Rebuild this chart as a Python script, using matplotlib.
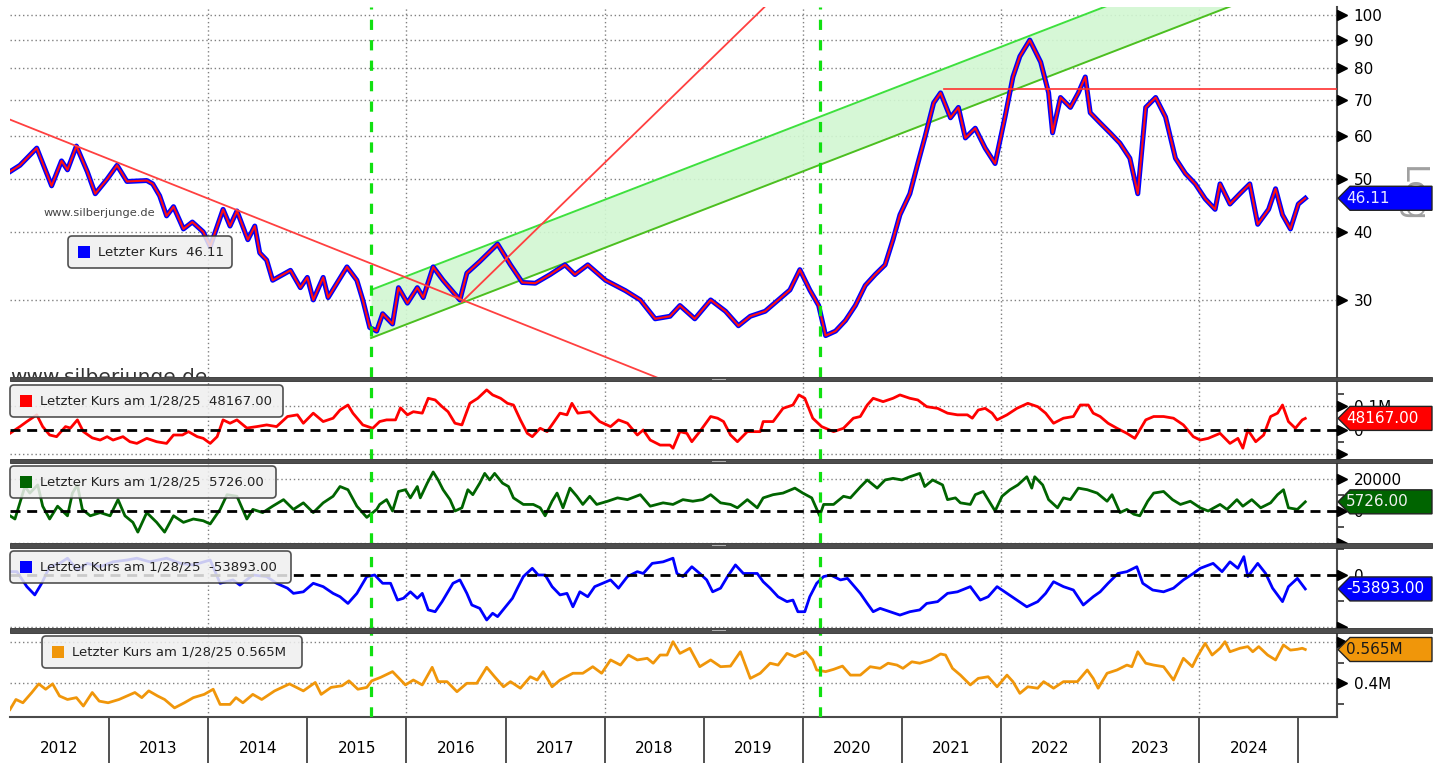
import numpy as np
import matplotlib
matplotlib.use("Agg")
import matplotlib.pyplot as plt
import matplotlib.transforms as mtransforms
from matplotlib import font_manager as fm
from matplotlib.patches import Polygon, Rectangle, FancyBboxPatch
from matplotlib.ticker import NullLocator, NullFormatter, FixedLocator

# ---------------- data (decimal years / values) ----------------
price_t = [2012.00, 2012.10, 2012.27, 2012.42, 2012.52, 2012.58, 2012.67, 2012.78, 2012.86, 2012.98,
           2013.08, 2013.18, 2013.38, 2013.44, 2013.51, 2013.58, 2013.65, 2013.75, 2013.84, 2013.95,
           2014.02, 2014.15, 2014.22, 2014.29, 2014.40, 2014.47, 2014.52, 2014.59, 2014.65, 2014.83,
           2014.93, 2015.00, 2015.06, 2015.16, 2015.21, 2015.40, 2015.50, 2015.56, 2015.63, 2015.70,
           2015.76, 2015.86, 2015.92, 2016.01, 2016.11, 2016.17, 2016.27, 2016.37, 2016.54, 2016.61,
           2016.74, 2016.92, 2017.05, 2017.17, 2017.30, 2017.45, 2017.60, 2017.70, 2017.83, 2018.01,
           2018.21, 2018.36, 2018.51, 2018.66, 2018.76, 2018.91, 2019.07, 2019.22, 2019.35, 2019.47,
           2019.62, 2019.77, 2019.87, 2019.97, 2020.07, 2020.16, 2020.23, 2020.33, 2020.43, 2020.53,
           2020.63, 2020.73, 2020.83, 2020.91, 2020.98, 2021.08, 2021.16, 2021.23, 2021.32, 2021.39,
           2021.49, 2021.57, 2021.64, 2021.74, 2021.84, 2021.94, 2022.04, 2022.12, 2022.19, 2022.29,
           2022.40, 2022.48, 2022.52, 2022.60, 2022.70, 2022.78, 2022.85, 2022.90, 2023.00, 2023.10,
           2023.20, 2023.30, 2023.38, 2023.46, 2023.56, 2023.66, 2023.76, 2023.86, 2023.96, 2024.06,
           2024.16, 2024.21, 2024.31, 2024.41, 2024.51, 2024.59, 2024.70, 2024.77, 2024.84, 2024.92,
           2025.00, 2025.07]
price_v = [51.6, 53.0, 57.0, 48.6, 54.0, 52.0, 57.5, 51.6, 47.0, 50.0,
           53.0, 49.5, 49.7, 49.0, 46.6, 42.8, 44.5, 40.5, 41.7, 40.0,
           37.6, 44.0, 41.0, 43.7, 38.7, 41.0, 36.6, 35.5, 32.6, 34.0,
           31.6, 33.0, 30.0, 33.0, 30.3, 34.5, 32.6, 30.0, 26.7, 26.3,
           28.3, 27.1, 31.6, 29.6, 31.6, 30.3, 34.5, 32.6, 30.0, 33.6,
           35.3, 38.0, 34.8, 32.3, 32.2, 33.4, 34.8, 33.4, 34.8, 32.6,
           31.2, 30.0, 27.7, 28.0, 29.3, 27.7, 30.0, 28.6, 26.9, 28.0,
           28.6, 30.2, 31.3, 34.1, 31.3, 29.3, 25.8, 26.3, 27.5, 29.3,
           31.9, 33.4, 34.8, 38.7, 43.0, 47.0, 53.4, 59.5, 69.0, 72.0,
           64.8, 67.7, 59.5, 62.0, 57.0, 53.4, 65.0, 77.0, 84.0, 90.0,
           82.0, 72.0, 60.8, 70.6, 67.7, 72.0, 77.0, 66.2, 63.4, 60.8,
           58.2, 54.6, 47.0, 67.7, 70.6, 65.0, 54.6, 51.2, 49.0, 46.0,
           44.0, 49.0, 45.0, 47.0, 49.0, 41.3, 44.0, 48.0, 43.0, 40.5,
           45.0, 46.11]

red_t = [2012.00, 2012.10, 2012.17, 2012.27, 2012.33, 2012.40, 2012.47, 2012.56, 2012.61, 2012.68,
         2012.74, 2012.83, 2012.91, 2012.98, 2013.04, 2013.14, 2013.21, 2013.28, 2013.38, 2013.48,
         2013.58, 2013.65, 2013.74, 2013.80, 2013.89, 2013.95, 2014.02, 2014.09, 2014.15, 2014.22,
         2014.29, 2014.39, 2014.49, 2014.59, 2014.69, 2014.80, 2014.90, 2014.96, 2015.06, 2015.16,
         2015.26, 2015.33, 2015.41, 2015.46, 2015.56, 2015.66, 2015.73, 2015.80, 2015.89, 2015.94,
         2016.01, 2016.07, 2016.16, 2016.22, 2016.29, 2016.36, 2016.42, 2016.49, 2016.56, 2016.64,
         2016.72, 2016.81, 2016.87, 2016.95, 2017.02, 2017.08, 2017.15, 2017.22, 2017.27, 2017.35,
         2017.42, 2017.48, 2017.55, 2017.62, 2017.67, 2017.73, 2017.85, 2017.95, 2018.06, 2018.14,
         2018.23, 2018.33, 2018.39, 2018.46, 2018.56, 2018.66, 2018.69, 2018.76, 2018.83, 2018.88,
         2018.96, 2019.07, 2019.14, 2019.20, 2019.27, 2019.34, 2019.44, 2019.57, 2019.60, 2019.70,
         2019.80, 2019.90, 2019.96, 2020.02, 2020.10, 2020.19, 2020.31, 2020.41, 2020.51, 2020.58,
         2020.65, 2020.71, 2020.81, 2020.91, 2020.98, 2021.08, 2021.16, 2021.25, 2021.36, 2021.46,
         2021.56, 2021.66, 2021.71, 2021.77, 2021.84, 2021.91, 2021.96, 2022.06, 2022.16, 2022.27,
         2022.37, 2022.45, 2022.53, 2022.63, 2022.73, 2022.80, 2022.88, 2022.93, 2023.00, 2023.08,
         2023.17, 2023.27, 2023.35, 2023.40, 2023.46, 2023.54, 2023.64, 2023.74, 2023.84, 2023.94,
         2024.01, 2024.09, 2024.21, 2024.31, 2024.39, 2024.44, 2024.49, 2024.57, 2024.65, 2024.72,
         2024.79, 2024.84, 2024.90, 2024.97, 2025.04, 2025.07]
red_v = [-14, 14, 35, 63, 14, -21, -28, 14, 8, 42,
         -7, -33, -42, -28, -42, -28, -49, -56, -35, -49,
         -56, -21, -21, -7, -28, -35, -56, -28, 42, 28,
         42, 8, 14, 21, 14, 56, 63, 28, 70, 35,
         49, 83, 104, 70, 21, 7, 35, 42, 42, 92,
         63, 76, 70, 132, 125, 97, 76, 28, 21, 111,
         132, 167, 146, 132, 111, 104, 42, -14, -28, 7,
         -7, 28, 70, 63, 111, 70, 76, 35, 14, 42,
         28, -21, 0, -42, -63, -63, -76, -7, -14, -49,
         -7, 56, 49, 35, -21, -49, -7, -7, 35, 35,
         90, 104, 146, 132, 49, 14, -7, 7, 49, 56,
         104, 132, 118, 132, 146, 132, 125, 97, 90, 70,
         63, 63, 49, 83, 90, 70, 42, 63, 90, 111,
         97, 70, 28, 49, 56, 104, 104, 70, 56, 28,
         7, -14, -35, 0, 42, 56, 56, 49, 21, -28,
         -42, -35, -14, -56, -35, -76, 0, -49, -21, 56,
         70, 104, 35, 7, 42, 48.167]

green_t = [2012.00, 2012.05, 2012.10, 2012.15, 2012.20, 2012.28, 2012.33, 2012.40, 2012.48, 2012.58,
           2012.63, 2012.68, 2012.73, 2012.81, 2012.91, 2013.01, 2013.09, 2013.16, 2013.24, 2013.29,
           2013.38, 2013.48, 2013.56, 2013.65, 2013.75, 2013.85, 2013.95, 2014.02, 2014.12, 2014.19,
           2014.29, 2014.39, 2014.45, 2014.55, 2014.65, 2014.76, 2014.86, 2014.96, 2015.06, 2015.16,
           2015.26, 2015.33, 2015.41, 2015.50, 2015.60, 2015.70, 2015.73, 2015.80, 2015.86, 2015.92,
           2015.99, 2016.04, 2016.11, 2016.14, 2016.21, 2016.27, 2016.32, 2016.37, 2016.44, 2016.49,
           2016.56, 2016.62, 2016.67, 2016.74, 2016.79, 2016.84, 2016.89, 2016.97, 2017.03, 2017.08,
           2017.18, 2017.28, 2017.35, 2017.40, 2017.47, 2017.52, 2017.58, 2017.65, 2017.72, 2017.78,
           2017.85, 2017.92, 2018.03, 2018.13, 2018.23, 2018.36, 2018.46, 2018.59, 2018.69, 2018.79,
           2018.89, 2018.99, 2019.07, 2019.17, 2019.27, 2019.34, 2019.44, 2019.54, 2019.60, 2019.70,
           2019.80, 2019.92, 2020.00, 2020.09, 2020.17, 2020.21, 2020.31, 2020.41, 2020.48, 2020.58,
           2020.65, 2020.75, 2020.83, 2020.91, 2021.00, 2021.08, 2021.18, 2021.23, 2021.31, 2021.41,
           2021.46, 2021.54, 2021.59, 2021.69, 2021.74, 2021.82, 2021.87, 2021.94, 2022.01, 2022.09,
           2022.17, 2022.26, 2022.31, 2022.34, 2022.42, 2022.48, 2022.57, 2022.63, 2022.70, 2022.78,
           2022.87, 2022.97, 2023.07, 2023.12, 2023.20, 2023.27, 2023.34, 2023.40, 2023.48, 2023.54,
           2023.64, 2023.73, 2023.81, 2023.91, 2024.01, 2024.09, 2024.21, 2024.28, 2024.38, 2024.44,
           2024.53, 2024.62, 2024.72, 2024.79, 2024.85, 2024.90, 2024.99, 2025.07]
green_v = [-3, -5, 5.1, 15.3, 11.2, 16.3, 3, -5, 3, -3,
           11.2, 16.3, 1, -3, -1, -3, 7.1, -3, -7.1, -13.2,
           -1, -7.1, -13.2, -3, -7.1, -5, -6.1, -8.1, 1, 10.2,
           9.2, -5, 1, -1, 3, 7.1, 1, 5.1, -1, 5.1,
           9.2, 15.3, 13.3, 3, -4, 1, 4.1, 7.1, 0, 12.2,
           13.3, 8.2, 15.3, 8.2, 17.4, 24.4, 19.4, 13.3, 7.1, 0,
           2, 13.3, 10.2, 17.4, 23.5, 19.4, 23.5, 17.4, 15.3, 8.2,
           4.1, 4.1, 2, -3, 6.1, 11.2, 2, 14.3, 9.2, 4.1,
           9.2, 4.1, 6.1, 8.2, 7.1, 10.2, 3, 5.1, 4.1, 7.1,
           6.1, 7.1, 10.2, 5.1, 4.1, 2, 7.1, 2, 8.2, 10.2,
           11.2, 14.3, 11.2, 8.2, -3, 4.1, 4.1, 9.2, 8.2, 15,
           19.4, 14.3, 19.4, 20.4, 19.4, 21.4, 23.5, 15.3, 19.4, 16.3,
           7.1, 8.2, 5.1, 4.1, 10.2, 12.2, 7.1, 0, 9.2, 13.3,
           16.3, 21.4, 14.3, 21.4, 16.3, 7.1, 2, 8.2, 7.1, 14.3,
           13.3, 11.2, 6.1, 10.2, -1, 1, -2, -3, 6.1, 11.2,
           12.2, 7.1, 4.1, 6.1, 2, 0, 4.1, 1, 7.1, 3,
           7.1, 2, 5.1, 10.2, 13.3, 2, 1, 5.726]

blue_t = [2012.00, 2012.07, 2012.17, 2012.25, 2012.32, 2012.40, 2012.50, 2012.58, 2012.68, 2012.78,
          2012.91, 2013.04, 2013.18, 2013.28, 2013.41, 2013.58, 2013.72, 2013.85, 2014.02, 2014.12,
          2014.25, 2014.32, 2014.45, 2014.59, 2014.69, 2014.80, 2014.86, 2014.96, 2015.06, 2015.16,
          2015.26, 2015.33, 2015.41, 2015.50, 2015.60, 2015.68, 2015.76, 2015.84, 2015.91, 2015.97,
          2016.04, 2016.11, 2016.16, 2016.22, 2016.29, 2016.36, 2016.41, 2016.47, 2016.54, 2016.61,
          2016.66, 2016.74, 2016.81, 2016.87, 2016.92, 2017.00, 2017.07, 2017.12, 2017.18, 2017.27,
          2017.33, 2017.40, 2017.47, 2017.55, 2017.62, 2017.68, 2017.75, 2017.83, 2017.90, 2017.98,
          2018.06, 2018.14, 2018.23, 2018.33, 2018.39, 2018.48, 2018.59, 2018.69, 2018.73, 2018.79,
          2018.88, 2018.96, 2019.03, 2019.09, 2019.17, 2019.24, 2019.32, 2019.40, 2019.54, 2019.60,
          2019.67, 2019.75, 2019.84, 2019.90, 2019.95, 2020.02, 2020.07, 2020.14, 2020.21, 2020.28,
          2020.38, 2020.45, 2020.58, 2020.65, 2020.71, 2020.78, 2020.88, 2020.98, 2021.08, 2021.18,
          2021.25, 2021.36, 2021.46, 2021.56, 2021.69, 2021.79, 2021.87, 2021.96, 2022.06, 2022.16,
          2022.26, 2022.37, 2022.45, 2022.53, 2022.63, 2022.73, 2022.83, 2022.93, 2023.00, 2023.08,
          2023.18, 2023.27, 2023.37, 2023.43, 2023.53, 2023.64, 2023.74, 2023.84, 2023.94, 2024.01,
          2024.14, 2024.23, 2024.31, 2024.39, 2024.45, 2024.49, 2024.59, 2024.67, 2024.74, 2024.84,
          2024.90, 2024.99, 2025.07]
blue_v = [13, 13, -45, -77, -32, 32, 45, 65, 19, 45,
          32, 51, 58, 65, 51, 65, 45, 39, 58, -32,
          -19, -39, 0, -6, -32, -51, -71, -65, -32, -45,
          -71, -84, -110, -71, -6, 0, -32, -32, -97, -90,
          -65, -90, -71, -135, -142, -103, -71, -32, -19, -71,
          -116, -129, -174, -148, -161, -123, -90, -51, -6, 26,
          0, 0, -45, -77, -71, -123, -65, -84, -45, -32,
          -19, -51, -6, 13, 6, 45, 51, 65, 6, -6,
          32, 6, -19, -65, -51, -6, 39, 6, 6, -26,
          -51, -84, -103, -97, -142, -142, -84, -32, -6, 0,
          -19, -13, -71, -110, -142, -129, -142, -155, -142, -135,
          -110, -103, -71, -65, -45, -97, -84, -45, -71, -97,
          -123, -103, -71, -26, -45, -58, -116, -84, -65, -32,
          6, 13, 32, -32, -58, -65, -51, -19, 6, 26,
          45, 13, 51, 26, 71, -6, 45, 6, -51, -103,
          -45, -13, -53.893]

orange_t = [2012.00, 2012.06, 2012.13, 2012.22, 2012.29, 2012.36, 2012.43, 2012.50, 2012.58, 2012.67,
            2012.74, 2012.83, 2012.90, 2012.99, 2013.10, 2013.26, 2013.33, 2013.40, 2013.49, 2013.56,
            2013.66, 2013.76, 2013.85, 2013.96, 2014.05, 2014.12, 2014.22, 2014.28, 2014.35, 2014.45,
            2014.54, 2014.67, 2014.82, 2014.96, 2015.08, 2015.14, 2015.24, 2015.35, 2015.42, 2015.51,
            2015.60, 2015.65, 2015.74, 2015.86, 2015.99, 2016.07, 2016.16, 2016.26, 2016.32, 2016.41,
            2016.51, 2016.61, 2016.71, 2016.81, 2016.89, 2016.98, 2017.05, 2017.15, 2017.25, 2017.32,
            2017.38, 2017.47, 2017.55, 2017.68, 2017.78, 2017.88, 2017.97, 2018.06, 2018.16, 2018.24,
            2018.33, 2018.43, 2018.49, 2018.56, 2018.63, 2018.69, 2018.76, 2018.86, 2018.96, 2019.07,
            2019.17, 2019.27, 2019.37, 2019.47, 2019.57, 2019.67, 2019.75, 2019.84, 2019.92, 2020.03,
            2020.10, 2020.14, 2020.23, 2020.31, 2020.40, 2020.48, 2020.58, 2020.68, 2020.78, 2020.86,
            2020.95, 2021.01, 2021.10, 2021.18, 2021.29, 2021.39, 2021.44, 2021.51, 2021.59, 2021.69,
            2021.77, 2021.87, 2021.96, 2022.06, 2022.12, 2022.19, 2022.27, 2022.37, 2022.43, 2022.53,
            2022.63, 2022.77, 2022.87, 2022.93, 2022.98, 2023.07, 2023.17, 2023.27, 2023.32, 2023.38,
            2023.46, 2023.54, 2023.64, 2023.74, 2023.84, 2023.93, 2023.98, 2024.06, 2024.13, 2024.21,
            2024.26, 2024.31, 2024.41, 2024.49, 2024.54, 2024.60, 2024.69, 2024.77, 2024.85, 2024.92,
            2024.99, 2025.04, 2025.07]
orange_v = [272, 321, 305, 355, 397, 371, 397, 338, 321, 330,
            289, 355, 313, 305, 321, 355, 330, 363, 338, 321,
            280, 305, 330, 346, 371, 297, 297, 330, 305, 346,
            321, 363, 397, 363, 404, 346, 380, 388, 412, 371,
            380, 412, 429, 457, 392, 416, 392, 478, 408, 408,
            359, 400, 400, 478, 432, 383, 408, 376, 432, 416,
            457, 383, 416, 449, 449, 481, 449, 514, 489, 538,
            514, 522, 498, 538, 538, 603, 546, 571, 481, 514,
            481, 484, 554, 424, 449, 498, 489, 546, 530, 554,
            514, 465, 457, 468, 484, 440, 440, 481, 473, 498,
            489, 473, 505, 498, 514, 543, 538, 473, 440, 392,
            424, 432, 383, 440, 408, 351, 383, 376, 408, 376,
            408, 408, 465, 424, 376, 449, 465, 489, 481, 554,
            498, 489, 481, 416, 522, 481, 530, 595, 538, 571,
            603, 554, 571, 579, 554, 579, 538, 514, 587, 562,
            566, 571, 565]

# trend lines / annotations (data units)
down_t, down_v = [2012.0, 2018.7], [64.3, 21.0]
up_t, up_v = [2016.56, 2019.8], [29.75, 111.7]
chan_t, chan_lo, chan_hi = [2015.643, 2025.39], [25.54, 123.5], [31.30, 151.3]
hl_t, hl_v = [2021.42, 2025.39], [73.1, 73.1]
event_t = [2015.643, 2020.175]
grid_years = [2014, 2016, 2018, 2020, 2022, 2024]
year_labels = [str(y) for y in range(2012, 2025)]
last_values = ["46.11", "48167.00", "5726.00", "-53893.00", "0.565M"]

# ---------------- figure ----------------
W, H = 1444, 763
fig = plt.figure(figsize=(W / 100, H / 100), dpi=100)
fig.patch.set_facecolor("white")
names = {f.name for f in fm.fontManager.ttflist}
NARROW = "Liberation Sans Narrow" if "Liberation Sans Narrow" in names else "DejaVu Sans"
NSIZE = 13 if NARROW != "DejaVu Sans" else 11
plt.rcParams["font.family"] = ["DejaVu Sans"]
ID = mtransforms.IdentityTransform()


def rect(x0, yt, x1, yb):
    return [x0 / W, 1 - yb / H, (x1 - x0) / W, (yb - yt) / H]


X0_T, X1_T = 2012.0, 2025.39
ax_m = fig.add_axes(rect(10, 7, 1337, 377))
ax_r = fig.add_axes(rect(10, 381, 1337, 459))
ax_g = fig.add_axes(rect(10, 463, 1337, 543))
ax_b = fig.add_axes(rect(10, 548, 1337, 628))
ax_o = fig.add_axes(rect(10, 633, 1337, 717))
all_axes = [ax_m, ax_r, ax_g, ax_b, ax_o]

DOT = (0, (1, 2))
for ax in all_axes:
    ax.set_xlim(X0_T, X1_T)
    for s in ["top", "left", "bottom"]:
        ax.spines[s].set_visible(False)
    ax.spines["right"].set_color("#4a4a4a")
    ax.spines["right"].set_linewidth(1.5)
    ax.yaxis.tick_right()
    ax.tick_params(axis="x", which="both", bottom=False, top=False, labelbottom=False)
    for yr in grid_years:
        ax.axvline(yr, color="#808080", lw=1, ls=DOT, zorder=0)
    for t in event_t:
        ax.axvline(t, color="#11e011", lw=2.3, ls=(0, (3.2, 3.2)), zorder=6)

# ---- main price panel ----
ax_m.set_yscale("log")
ax_m.set_ylim(21.66, 103.5)
ax_m.fill_between(chan_t, chan_lo, chan_hi, color="#d2f7d2", alpha=0.9, lw=0, zorder=1)
ax_m.plot(chan_t, chan_hi, color="#3ee03e", lw=1.4, zorder=2)
ax_m.plot(chan_t, chan_lo, color="#4cbf20", lw=1.4, zorder=2)
ax_m.plot(price_t, price_v, color="#0000ff", lw=3.6, zorder=3)
ax_m.plot(price_t, price_v, color="#ff1010", lw=1.5, zorder=4)
ax_m.plot(down_t, down_v, color="#ff4040", lw=1.3, zorder=5)
ax_m.plot(up_t, up_v, color="#ff4040", lw=1.3, zorder=5)
ax_m.plot(hl_t, hl_v, color="#ff3030", lw=1.2, zorder=5)
main_ticks = [30, 40, 50, 60, 70, 80, 90, 100]
for v in main_ticks:
    ax_m.axhline(v, color="#808080", lw=1, ls=DOT, zorder=0)
ax_m.yaxis.set_minor_locator(NullLocator())
ax_m.yaxis.set_minor_formatter(NullFormatter())
ax_m.text(0.025, 0.443, "www.silberjunge.de", transform=ax_m.transAxes, fontsize=8.2,
          color="#444444", va="center", zorder=7)
ax_m.text(0.0, -0.016, "www.silberjunge.de", transform=ax_m.transAxes, fontsize=14.5,
          color="#333333", va="baseline", ha="left", zorder=7, clip_on=True)

# ---- indicator panels ----
ax_r.set_ylim(-121, 204)
ax_r.plot(red_t, red_v, color="#ff0000", lw=2, zorder=3)
ax_g.set_ylim(-20, 30)
ax_g.plot(green_t, green_v, color="#006400", lw=2, zorder=3)
ax_b.set_ylim(-205, 104.5)
ax_b.plot(blue_t, blue_v, color="#0000ff", lw=2, zorder=3)
ax_o.set_ylim(235.5, 645.5)
ax_o.plot(orange_t, orange_v, color="#f0960a", lw=2, zorder=3)

for ax in [ax_r, ax_g, ax_b]:
    ax.axhline(0, color="black", lw=2, ls=(0, (3.6, 2.4)), zorder=5)

panel_cfg = [
    (ax_m, main_ticks, [str(v) for v in main_ticks], [], main_ticks),
    (ax_r, [100, 0, -100], ["0.1M", "0", ""], [150, 50, -50], [100, -100]),
    (ax_g, [20, 0, -20], ["20000", "0", ""], [10, -10], [20, -20]),
    (ax_b, [0, -200], ["0", ""], [100, -100], [-200]),
    (ax_o, [600, 400], ["", "0.4M"], [500, 300], [600, 400]),
]
for ax, majors, labels, minors, grids in panel_cfg:
    ax.set_yticks(majors)
    ax.set_yticklabels(labels, fontfamily=NARROW, fontsize=NSIZE, color="black")
    ax.yaxis.set_minor_locator(FixedLocator(minors) if minors else NullLocator())
    ax.tick_params(axis="y", which="major", length=0, pad=12)
    ax.tick_params(axis="y", which="minor", length=5, width=1.2, color="#333333",
                   right=True, left=False, direction="out")
    if ax is not ax_m:
        for g in grids:
            ax.axhline(g, color="#808080", lw=1, ls=DOT, zorder=0)
    tr = mtransforms.blended_transform_factory(ax.transAxes, ax.transData) + \
        mtransforms.ScaledTranslation(0.05, 0, fig.dpi_scale_trans)
    ax.plot(np.ones(len(majors)), majors, transform=tr, ls="none", marker=">", ms=7.5,
            color="black", clip_on=False, zorder=8)

# ---- bottom year axis ----
ax_o.spines["bottom"].set_visible(True)
ax_o.spines["bottom"].set_color("#4a4a4a")
ax_o.spines["bottom"].set_linewidth(1.5)
ax_o.set_xticks(list(range(2013, 2026)))
ax_o.set_xticks([y + 0.5 for y in range(2012, 2025)], minor=True)
ax_o.set_xticklabels([""] * 13)
ax_o.set_xticklabels(year_labels, minor=True, fontfamily=NARROW, fontsize=NSIZE)
ax_o.tick_params(axis="x", which="major", bottom=True, length=33, width=1.2,
                 color="#333333", direction="out")
ax_o.tick_params(axis="x", which="minor", bottom=True, labelbottom=True, length=0, pad=17)

# ---- separators ----
for yt, yb in [(377, 381), (459, 463), (543, 548), (628, 633)]:
    fig.add_artist(Rectangle((10, H - yb), 1422, yb - yt, facecolor="#4d4d4d",
                             edgecolor="#333333", lw=0.6, transform=ID, zorder=20))
    ymid = H - (yt + yb) / 2
    fig.add_artist(Rectangle((712, ymid - 0.5), 14, 1, facecolor="#b0b0b0", lw=0,
                             transform=ID, zorder=21))


# ---- legend boxes ----
def legend_box(x0, yt, x1, yb, color, text):
    fig.add_artist(FancyBboxPatch((x0, H - yb), x1 - x0, yb - yt,
                                  boxstyle="round,pad=0,rounding_size=4",
                                  facecolor="#efefef", edgecolor="#333333", lw=1.2,
                                  alpha=0.85, transform=ID, zorder=15))
    yc = H - (yt + yb) / 2
    fig.add_artist(Rectangle((x0 + 10, yc - 6), 12, 12, facecolor=color, lw=0,
                             transform=ID, zorder=16))
    fig.text(x0 + 30, yc, text, transform=ID, fontsize=9.5, color="#222222",
             va="center", ha="left", zorder=16)


legend_box(68, 236, 232, 268, "#0000ff", "Letzter Kurs  " + last_values[0])
legend_box(10, 385, 283, 417, "#ff0000", "Letzter Kurs am 1/28/25  " + last_values[1])
legend_box(10, 466, 276, 498, "#006400", "Letzter Kurs am 1/28/25  " + last_values[2])
legend_box(10, 551, 291, 583, "#0000ff", "Letzter Kurs am 1/28/25  " + last_values[3])
legend_box(42, 636, 302, 668, "#f0960a", "Letzter Kurs am 1/28/25 " + last_values[4])

# ---- "Log" marker ----
fig.text(1411 / W, 1 - 195 / H, "Log", rotation=270, fontsize=23, color="#a0a0a0",
         ha="center", va="center", zorder=9)


# ---- last value tags ----
def value_tag(ax, value, text, face, tcolor):
    _, yp = ax.transData.transform((X1_T, value))
    xs = [1338, 1350, 1432, 1432, 1350]
    ys = [yp, yp + 12, yp + 12, yp - 12, yp - 12]
    fig.add_artist(Polygon(np.column_stack([xs, ys]), closed=True, facecolor=face,
                           edgecolor="#222222", lw=1, transform=ID, zorder=12))
    fig.text(1346, yp, text, transform=ID, fontfamily=NARROW, fontsize=NSIZE,
             color=tcolor, va="center", ha="left", zorder=13)


value_tag(ax_m, price_v[-1], last_values[0], "#0000ff", "#e8e8ff")
value_tag(ax_r, red_v[-1], last_values[1], "#ff0000", "#ffffff")
value_tag(ax_g, green_v[-1], last_values[2], "#006400", "#f0f0f0")
value_tag(ax_b, blue_v[-1], last_values[3], "#0000ff", "#ffffff")
value_tag(ax_o, orange_v[-1], last_values[4], "#f0960a", "#1a1a1a")

fig.savefig("out.png", dpi=100)
